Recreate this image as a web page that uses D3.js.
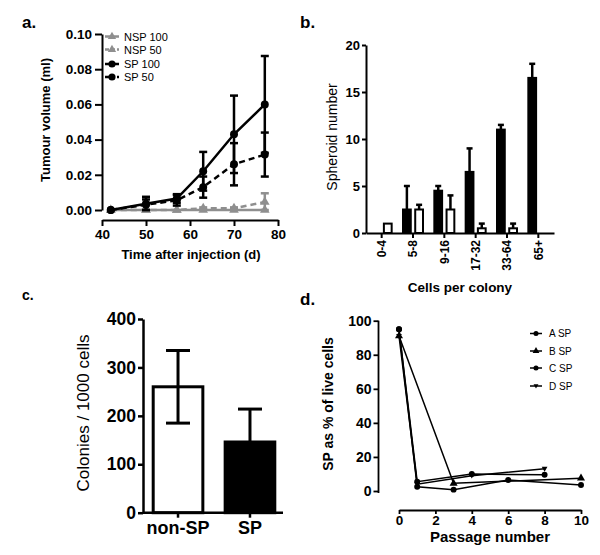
<!DOCTYPE html>
<html><head><meta charset="utf-8">
<script src="https://cdn.jsdelivr.net/npm/d3@7"></script>
<style>
body{margin:0;background:#fff}
svg{display:block}
text{font-family:"Liberation Sans",Arial,Helvetica,sans-serif;fill:#000}
</style>
</head><body>
<svg id="chart" width="600" height="555"></svg>
<script>
// ---------- Panel a: tumour volume ----------
const daysA = [42, 50, 57, 63, 70, 77];
const nsp100 = [0, 0, 0, 0, 0, 0];
const nsp100Err = [0, 0, 0, 0, 0, 0];
const nsp50 = [0, 0, 0, 0.001, 0.001, 0.0045];
const nsp50Err = [0, 0, 0, 0.0005, 0.0005, 0.005];
const sp100 = [0, 0.0035, 0.0065, 0.022, 0.043, 0.060];
const sp100Err = [0, 0.004, 0.0025, 0.011, 0.022, 0.0275];
const sp50 = [0, 0.003, 0.0055, 0.013, 0.026, 0.0315];
const sp50Err = [0, 0.003, 0.003, 0.006, 0.012, 0.0125];
const seriesNamesA = ["NSP 100", "NSP 50", "SP 100", "SP 50"];
const ticksAx = [40, 50, 60, 70, 80];
const ticksAy = [0, 0.02, 0.04, 0.06, 0.08, 0.10];

// ---------- Panel b: spheroid number ----------
const cellCats = ["0-4", "5-8", "9-16", "17-32", "33-64", "65+"];
const spheroidSP = [0, 2.5, 4.5, 6.5, 11, 16.5];
const spheroidSPErr = [0, 2.5, 0.5, 2.5, 0.5, 1.5];
const spheroidNSP = [1, 2.5, 2.5, 0.5, 0.5, 0];
const spheroidNSPErr = [0, 0.5, 1.5, 0.5, 0.5, 0];
const ticksBy = [0, 5, 10, 15, 20];

// ---------- Panel c: colonies ----------
const colonyCats = ["non-SP", "SP"];
const colonies = [260, 146];
const coloniesErr = [75, 68];
const ticksCy = [0, 100, 200, 300, 400];

// ---------- Panel d: SP over passages ----------
const passA = [0, 1, 3, 6, 10], spA = [95, 2.5, 0.8, 6.5, 3.5];
const passB = [0, 3, 10],       spB = [91, 4.5, 7.5];
const passC = [0, 1, 4, 8],     spC = [95, 5.5, 10, 9.5];
const passD = [0, 1, 4, 8],     spD = [91, 4, 9, 13];
const seriesNamesD = ["A SP", "B SP", "C SP", "D SP"];
const ticksDx = [0, 2, 4, 6, 8, 10];
const ticksDy = [0, 20, 40, 60, 80, 100];

const svg = d3.select("#chart");
const GRAY = "#8f8f8f";

function styleAxis(g, fs, weight, sw) {
  g.select(".domain").attr("stroke", "#000").attr("stroke-width", sw);
  g.selectAll(".tick line").attr("stroke", "#000").attr("stroke-width", sw);
  g.selectAll(".tick text").attr("font-size", fs).attr("font-weight", weight)
    .attr("font-family", '"Liberation Sans",Arial,sans-serif').attr("fill", "#000");
}
function label(x, y, t, fs, weight, anchor, rot) {
  const el = svg.append("text").attr("font-size", fs).attr("font-weight", weight || "normal")
    .attr("text-anchor", anchor || "middle").text(t);
  if (rot) el.attr("transform", `translate(${x},${y}) rotate(${rot})`);
  else el.attr("x", x).attr("y", y);
  return el;
}

// ================= Panel a =================
{
  const x = d3.scaleLinear().domain([40, 80]).range([102, 278]);
  const y = d3.scaleLinear().domain([0, 0.10]).range([210, 34]);
  const gx = svg.append("g").attr("transform", "translate(0,220)")
    .call(d3.axisBottom(x).tickValues(ticksAx).tickSize(6).tickSizeOuter(0).tickPadding(3));
  styleAxis(gx, 13.5, "bold", 2);
  const gy = svg.append("g").attr("transform", "translate(102,0)")
    .call(d3.axisLeft(y).tickValues(ticksAy).tickFormat(d3.format(".2f")).tickSize(7).tickSizeOuter(0).tickPadding(3));
  styleAxis(gy, 13.5, "bold", 2);
  label(191, 259, "Time after injection (d)", 13, "bold");
  label(50, 120, "Tumour volume (ml)", 13, "bold", "middle", -90);
  label(22, 28, "a.", 17, "bold", "start");

  const series = [
    {v: nsp100, e: nsp100Err, c: GRAY, dash: null, sym: d3.symbolTriangle},
    {v: nsp50, e: nsp50Err, c: GRAY, dash: "6,4", sym: d3.symbolTriangle},
    {v: sp100, e: sp100Err, c: "#000", dash: null, sym: d3.symbolCircle},
    {v: sp50, e: sp50Err, c: "#000", dash: "6,4", sym: d3.symbolCircle}
  ];
  const line = d3.line().x(d => x(d[0])).y(d => y(d[1]));
  series.forEach(s => {
    const pts = daysA.map((d, i) => [d, s.v[i], s.e[i]]);
    const g = svg.append("g");
    pts.forEach(p => {
      if (p[2] > 0) {
        const x0 = x(p[0]), yt = y(p[1] + p[2]), yb = y(Math.max(0, p[1] - p[2]));
        g.append("line").attr("x1", x0).attr("x2", x0).attr("y1", yt).attr("y2", yb)
          .attr("stroke", s.c).attr("stroke-width", 2.5);
        [yt, yb].forEach(yy => g.append("line").attr("x1", x0 - 4).attr("x2", x0 + 4)
          .attr("y1", yy).attr("y2", yy).attr("stroke", s.c).attr("stroke-width", 2.5));
      }
    });
    g.append("path").attr("d", line(pts)).attr("fill", "none").attr("stroke", s.c)
      .attr("stroke-width", 2.5).attr("stroke-dasharray", s.dash);
    g.selectAll("path.m").data(pts).enter().append("path").attr("class", "m")
      .attr("d", d3.symbol().type(s.sym).size(s.sym === d3.symbolCircle ? 50 : 40))
      .attr("transform", d => `translate(${x(d[0])},${y(d[1])})`).attr("fill", s.c);
  });
  // legend
  const ly = [36.5, 49.5, 64, 77];
  series.forEach((s, i) => {
    svg.append("line").attr("x1", 105).attr("x2", 119).attr("y1", ly[i]).attr("y2", ly[i])
      .attr("stroke", s.c).attr("stroke-width", 2.5).attr("stroke-dasharray", s.dash ? "4,2" : null);
    svg.append("path").attr("d", d3.symbol().type(s.sym).size(s.sym === d3.symbolCircle ? 40 : 30))
      .attr("transform", `translate(112,${ly[i]})`).attr("fill", s.c);
    label(124, ly[i] + 4, seriesNamesA[i], 11, "normal", "start").attr("fill", "#444");
  });
}

// ================= Panel b =================
{
  const x = d3.scaleBand().domain(cellCats).range([366, 554]).padding(0);
  const y = d3.scaleLinear().domain([0, 20]).range([233, 45]);
  const gx = svg.append("g").attr("transform", "translate(0,233)")
    .call(d3.axisBottom(x).tickSize(5).tickSizeOuter(0).tickPadding(3));
  styleAxis(gx, 12, "bold", 2);
  gx.selectAll(".tick text").attr("text-anchor", "end").attr("dy", "0.35em")
    .attr("transform", "translate(0,7) rotate(-90)").attr("x", 0).attr("y", 0);
  const gy = svg.append("g").attr("transform", "translate(366,0)")
    .call(d3.axisLeft(y).tickValues(ticksBy).tickSize(4).tickSizeOuter(0).tickPadding(2));
  styleAxis(gy, 13, "bold", 2);
  label(337, 137, "Spheroid number", 14, "normal", "middle", -90);
  label(460, 292, "Cells per colony", 13.5, "bold");
  label(300, 28, "b.", 17, "bold", "start");

  const sub = d3.scaleBand().domain(["SP", "NSP"]).range([-11, 11]).paddingInner(0.2);
  const groups = [
    {key: "SP", v: spheroidSP, e: spheroidSPErr, fill: "#000"},
    {key: "NSP", v: spheroidNSP, e: spheroidNSPErr, fill: "#fff"}
  ];
  groups.forEach(gr => {
    cellCats.forEach((c, i) => {
      const v = gr.v[i];
      if (v <= 0) return;
      const cx = x(c) + x.bandwidth() / 2;
      const bx = cx + sub(gr.key) + 1, bw = sub.bandwidth() - 2;
      if (gr.e[i] > 0) {
        const mx = bx + bw / 2, yt = y(v + gr.e[i]);
        svg.append("line").attr("x1", mx).attr("x2", mx).attr("y1", y(v)).attr("y2", yt)
          .attr("stroke", "#000").attr("stroke-width", 2.5);
        svg.append("line").attr("x1", mx - 3).attr("x2", mx + 3).attr("y1", yt).attr("y2", yt)
          .attr("stroke", "#000").attr("stroke-width", 2.5);
      }
      svg.append("rect").attr("x", bx).attr("y", y(v)).attr("width", bw).attr("height", y(0) - y(v))
        .attr("fill", gr.fill).attr("stroke", "#000").attr("stroke-width", 2);
    });
  });
}

// ================= Panel c =================
{
  const x = d3.scaleBand().domain(colonyCats).range([146, 282]).paddingInner(0.31).paddingOuter(0.1);
  const y = d3.scaleLinear().domain([0, 400]).range([512.7, 319]);
  const fills = ["#fff", "#000"];
  colonyCats.forEach((c, i) => {
    const bx = x(c), bw = x.bandwidth(), cx = bx + bw / 2;
    svg.append("rect").attr("x", bx).attr("y", y(colonies[i])).attr("width", bw)
      .attr("height", y(0) - y(colonies[i])).attr("fill", fills[i]).attr("stroke", "#000").attr("stroke-width", 3);
    const yt = y(colonies[i] + coloniesErr[i]);
    const yb = i === 0 ? y(colonies[i] - coloniesErr[i]) : y(colonies[i]);
    svg.append("line").attr("x1", cx).attr("x2", cx).attr("y1", yt).attr("y2", yb)
      .attr("stroke", "#000").attr("stroke-width", 3);
    const caps = i === 0 ? [yt, yb] : [yt];
    caps.forEach(yy => svg.append("line").attr("x1", cx - 12).attr("x2", cx + 12)
      .attr("y1", yy).attr("y2", yy).attr("stroke", "#000").attr("stroke-width", 3));
  });
  const gx = svg.append("g").attr("transform", "translate(0,512.7)")
    .call(d3.axisBottom(x).tickSize(5).tickSizeOuter(0).tickPadding(4));
  styleAxis(gx, 18, "bold", 2.5);
  gx.select(".domain").attr("d", "M143,0H283");
  const gy = svg.append("g").attr("transform", "translate(143,0)")
    .call(d3.axisLeft(y).tickValues(ticksCy).tickSize(5).tickSizeOuter(0).tickPadding(2));
  styleAxis(gy, 17.5, "bold", 2.5);
  label(89, 413, "Colonies / 1000 cells", 17, "normal", "middle", -90);
  label(22, 300, "c.", 14, "bold", "start");
}

// ================= Panel d =================
{
  const x = d3.scaleLinear().domain([0, 10]).range([399, 581]);
  const y = d3.scaleLinear().domain([0, 100]).range([491, 320.7]);
  const gx = svg.append("g").attr("transform", "translate(0,510)")
    .call(d3.axisBottom(x).tickValues(ticksDx).tickSize(4).tickSizeOuter(0).tickPadding(1));
  styleAxis(gx, 13.5, "bold", 1.8);
  const gy = svg.append("g").attr("transform", "translate(378.5,0)")
    .call(d3.axisLeft(y).tickValues(ticksDy).tickSize(5).tickSizeOuter(0).tickPadding(2));
  styleAxis(gy, 14, "bold", 1.8);
  gy.select(".domain").attr("d", "M0,320.7V493");
  label(490, 542, "Passage number", 15, "bold");
  label(333, 404, "SP as % of live cells", 14, "bold", "middle", -90);
  label(300, 305, "d.", 17, "bold", "start");

  const tri = d3.symbolTriangle;
  const triDown = {draw(ctx, size) { const h = Math.sqrt(size) * 0.9; ctx.moveTo(-h * 0.6, -h * 0.45); ctx.lineTo(h * 0.6, -h * 0.45); ctx.lineTo(0, h * 0.6); ctx.closePath(); }};
  const sers = [
    {xs: passA, ys: spA, sym: d3.symbolCircle},
    {xs: passB, ys: spB, sym: tri},
    {xs: passC, ys: spC, sym: d3.symbolCircle},
    {xs: passD, ys: spD, sym: triDown}
  ];
  const line = d3.line().x(d => x(d[0])).y(d => y(d[1]));
  sers.forEach(s => {
    const pts = s.xs.map((v, i) => [v, s.ys[i]]);
    svg.append("path").attr("d", line(pts)).attr("fill", "none").attr("stroke", "#000").attr("stroke-width", 1.5);
    svg.selectAll(null).data(pts).enter().append("path")
      .attr("d", d3.symbol().type(s.sym).size(28))
      .attr("transform", d => `translate(${x(d[0])},${y(d[1])})`).attr("fill", "#000");
  });
  const ly = [333.5, 351, 368, 386];
  sers.forEach((s, i) => {
    svg.append("line").attr("x1", 530).attr("x2", 542).attr("y1", ly[i]).attr("y2", ly[i])
      .attr("stroke", "#000").attr("stroke-width", 1.5);
    svg.append("path").attr("d", d3.symbol().type(s.sym).size(20))
      .attr("transform", `translate(536,${ly[i]})`).attr("fill", "#000");
    label(549, ly[i] + 3.5, seriesNamesD[i], 10, "normal", "start").attr("fill", "#444");
  });
}
</script>
</body></html>
